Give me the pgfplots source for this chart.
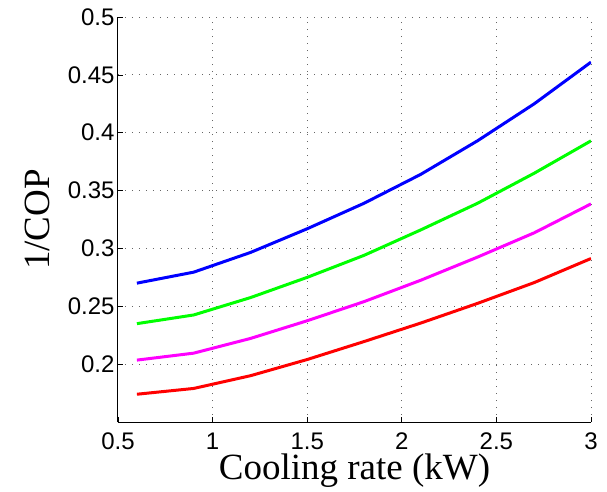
\documentclass[border=0pt]{standalone}
\usepackage{fontspec}
\setmainfont{Liberation Serif}
\newfontfamily\arial{Liberation Sans}
\usepackage{pgfplots}
\pgfplotsset{compat=1.18}
\definecolor{mblue}{rgb}{0,0,1}
\definecolor{mgreen}{rgb}{0,1,0}
\definecolor{mmagenta}{rgb}{1,0,1}
\definecolor{mred}{rgb}{1,0,0}

\begin{document}
\begin{tikzpicture}
  \begin{axis}[
    scale only axis,
    width=473pt, height=405pt,
    xmin=0.5, xmax=3, ymin=0.15, ymax=0.5,
    xtick={0.5,1,1.5,2,2.5,3},
    ytick={0.2,0.25,0.3,0.35,0.4,0.45,0.5},
    axis x line*=bottom, axis y line*=left,
    axis line style={black, line width=1pt},
    tick align=inside, major tick length=5pt,
    tick style={black, line width=0.7pt},
    grid=major, grid style={black!60, line width=1pt, dash pattern=on 1pt off 6pt},
    /pgf/number format/assume math mode=true,
    /pgf/number format/.cd, fixed, precision=2, /pgfplots/.cd,
    tick label style={font=\arial\fontsize{24}{24}\selectfont},
    xticklabel style={inner sep=0pt, yshift=-11pt},
    xlabel={Cooling rate (kW)},
    ylabel={1/COP},
    label style={font=\fontsize{37}{37}\selectfont},
    xlabel style={at={(rel axis cs:0.5,0)}, anchor=base, yshift=-57pt, inner sep=1pt},
    ylabel style={at={(rel axis cs:0,0.5)}, anchor=base, rotate=0, yshift=68pt},
  ]
    \addplot[mblue, line width=3pt] coordinates {
      (0.6,0.270)(0.9,0.2795)(1.2,0.2965)(1.5,0.317)(1.8,0.339)
      (2.1,0.364)(2.4,0.393)(2.7,0.425)(3.0,0.461)};
    \addplot[mgreen, line width=3pt] coordinates {
      (0.6,0.235)(0.9,0.2425)(1.2,0.2575)(1.5,0.275)(1.8,0.294)
      (2.1,0.316)(2.4,0.339)(2.7,0.365)(3.0,0.393)};
    \addplot[mmagenta, line width=3pt] coordinates {
      (0.6,0.2035)(0.9,0.2095)(1.2,0.2222)(1.5,0.2375)(1.8,0.254)
      (2.1,0.2725)(2.4,0.2925)(2.7,0.3135)(3.0,0.3385)};
    \addplot[mred, line width=3pt] coordinates {
      (0.6,0.174)(0.9,0.179)(1.2,0.190)(1.5,0.204)(1.8,0.2195)
      (2.1,0.2355)(2.4,0.2525)(2.7,0.2705)(3.0,0.2913)};
  \end{axis}
  \path (-118pt,-69pt) rectangle (489pt,422pt);
\end{tikzpicture}
\end{document}
